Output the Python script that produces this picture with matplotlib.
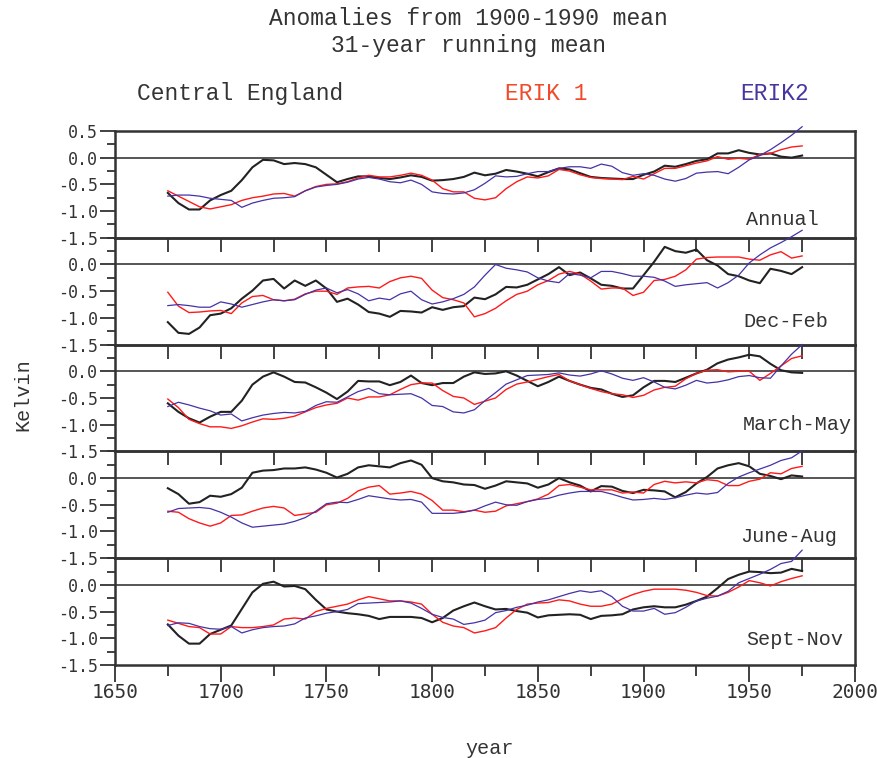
import numpy as np
import matplotlib
matplotlib.use('Agg')
import matplotlib.pyplot as plt
from matplotlib.ticker import MultipleLocator, FixedLocator

plt.rcParams['axes.unicode_minus'] = False

years = np.arange(1675, 1976, 5)

panels = ['Annual', 'Dec-Feb', 'March-May', 'June-Aug', 'Sept-Nov']

# Central England (black)
cet_annual = [-0.66, -0.85, -0.97, -0.97, -0.80, -0.70, -0.62, -0.42, -0.18, -0.04, -0.05, -0.12, -0.10,
              -0.12, -0.18, -0.32, -0.46, -0.40, -0.35, -0.35, -0.38, -0.40, -0.37, -0.33, -0.36, -0.43,
              -0.42, -0.40, -0.36, -0.28, -0.33, -0.30, -0.23, -0.26, -0.30, -0.35, -0.27, -0.20, -0.22,
              -0.29, -0.36, -0.38, -0.39, -0.40, -0.40, -0.32, -0.26, -0.15, -0.17, -0.12, -0.06, -0.03,
              0.08, 0.08, 0.14, 0.09, 0.06, 0.08, 0.02, 0.00, 0.04]
cet_djf = [-1.08, -1.28, -1.30, -1.18, -0.95, -0.92, -0.82, -0.64, -0.49, -0.30, -0.27, -0.45, -0.30,
           -0.40, -0.30, -0.45, -0.70, -0.64, -0.75, -0.89, -0.92, -0.98, -0.87, -0.88, -0.90, -0.80,
           -0.85, -0.80, -0.78, -0.62, -0.65, -0.56, -0.42, -0.43, -0.38, -0.28, -0.18, -0.05, -0.20,
           -0.15, -0.26, -0.38, -0.40, -0.45, -0.45, -0.20, 0.05, 0.33, 0.25, 0.22, 0.28, 0.08,
           -0.02, -0.18, -0.22, -0.30, -0.35, -0.08, -0.12, -0.18, -0.05]
cet_mam = [-0.60, -0.76, -0.88, -0.96, -0.85, -0.76, -0.76, -0.55, -0.25, -0.10, -0.02, -0.10, -0.20,
           -0.21, -0.30, -0.40, -0.52, -0.38, -0.18, -0.19, -0.19, -0.26, -0.20, -0.08, -0.22, -0.26,
           -0.22, -0.22, -0.10, -0.02, -0.05, -0.04, 0.00, -0.08, -0.18, -0.28, -0.20, -0.10, -0.18,
           -0.25, -0.31, -0.34, -0.42, -0.48, -0.45, -0.30, -0.18, -0.18, -0.20, -0.12, -0.04, 0.03,
           0.15, 0.22, 0.26, 0.31, 0.28, 0.14, 0.02, -0.02, -0.03]
cet_jja = [-0.19, -0.30, -0.48, -0.45, -0.33, -0.35, -0.30, -0.18, 0.10, 0.14, 0.15, 0.18, 0.18,
           0.20, 0.16, 0.10, 0.01, 0.08, 0.20, 0.24, 0.22, 0.20, 0.28, 0.33, 0.25, 0.00,
           -0.06, -0.08, -0.12, -0.13, -0.20, -0.14, -0.06, -0.08, -0.10, -0.18, -0.12, 0.00, -0.08,
           -0.14, -0.25, -0.15, -0.16, -0.24, -0.28, -0.22, -0.23, -0.25, -0.36, -0.26, -0.10, 0.02,
           0.18, 0.24, 0.28, 0.22, 0.08, 0.04, -0.02, 0.05, 0.03]
cet_son = [-0.74, -0.95, -1.10, -1.10, -0.92, -0.84, -0.76, -0.45, -0.14, 0.02, 0.06, -0.03, -0.02,
           -0.08, -0.28, -0.46, -0.50, -0.53, -0.55, -0.58, -0.64, -0.60, -0.60, -0.60, -0.62, -0.70,
           -0.62, -0.48, -0.40, -0.33, -0.40, -0.46, -0.45, -0.49, -0.52, -0.61, -0.57, -0.56, -0.55,
           -0.56, -0.64, -0.58, -0.57, -0.55, -0.46, -0.42, -0.40, -0.42, -0.42, -0.37, -0.30, -0.22,
           -0.06, 0.11, 0.19, 0.25, 0.24, 0.22, 0.23, 0.30, 0.26]

# ERIK 1 (red)
erik1_annual = [-0.62, -0.72, -0.82, -0.92, -0.96, -0.92, -0.88, -0.80, -0.75, -0.72, -0.68, -0.67, -0.72,
                -0.62, -0.54, -0.50, -0.49, -0.45, -0.38, -0.33, -0.36, -0.36, -0.33, -0.29, -0.33, -0.42,
                -0.58, -0.64, -0.64, -0.76, -0.79, -0.75, -0.58, -0.45, -0.36, -0.38, -0.34, -0.22, -0.25,
                -0.32, -0.37, -0.39, -0.40, -0.41, -0.35, -0.40, -0.30, -0.20, -0.20, -0.15, -0.10, -0.06,
                0.02, -0.03, -0.01, -0.03, 0.06, 0.08, 0.15, 0.20, 0.22]
erik1_djf = [-0.52, -0.78, -0.90, -0.89, -0.87, -0.86, -0.92, -0.72, -0.60, -0.58, -0.66, -0.68, -0.65,
             -0.55, -0.50, -0.50, -0.56, -0.44, -0.42, -0.41, -0.44, -0.32, -0.25, -0.22, -0.26, -0.48,
             -0.62, -0.66, -0.72, -0.98, -0.92, -0.82, -0.68, -0.56, -0.50, -0.38, -0.30, -0.18, -0.13,
             -0.18, -0.31, -0.46, -0.44, -0.44, -0.58, -0.52, -0.30, -0.28, -0.22, -0.10, 0.10, 0.13,
             0.14, 0.14, 0.14, 0.10, 0.08, 0.18, 0.24, 0.12, 0.16]
erik1_mam = [-0.52, -0.68, -0.90, -0.98, -1.04, -1.04, -1.07, -1.02, -0.95, -0.89, -0.90, -0.88, -0.84,
             -0.76, -0.68, -0.63, -0.60, -0.50, -0.54, -0.48, -0.48, -0.44, -0.34, -0.25, -0.22, -0.22,
             -0.36, -0.47, -0.50, -0.62, -0.56, -0.50, -0.34, -0.24, -0.20, -0.15, -0.10, -0.06, -0.18,
             -0.25, -0.32, -0.38, -0.42, -0.44, -0.49, -0.45, -0.35, -0.30, -0.28, -0.14, -0.04, 0.02,
             0.03, -0.01, 0.00, 0.00, -0.17, -0.04, 0.10, 0.24, 0.29]
erik1_jja = [-0.62, -0.64, -0.76, -0.84, -0.90, -0.84, -0.70, -0.69, -0.62, -0.56, -0.53, -0.56, -0.70,
             -0.67, -0.64, -0.50, -0.47, -0.38, -0.24, -0.17, -0.14, -0.30, -0.28, -0.25, -0.30, -0.42,
             -0.60, -0.60, -0.63, -0.60, -0.64, -0.62, -0.52, -0.48, -0.44, -0.39, -0.30, -0.14, -0.12,
             -0.17, -0.22, -0.22, -0.22, -0.28, -0.26, -0.28, -0.12, -0.06, -0.09, -0.07, -0.09, -0.03,
             -0.05, -0.14, -0.14, -0.06, -0.02, 0.10, 0.08, 0.18, 0.22]
erik1_son = [-0.66, -0.72, -0.78, -0.80, -0.92, -0.92, -0.78, -0.80, -0.80, -0.78, -0.75, -0.64, -0.62,
             -0.64, -0.50, -0.44, -0.40, -0.36, -0.28, -0.22, -0.26, -0.30, -0.30, -0.32, -0.36, -0.55,
             -0.70, -0.77, -0.80, -0.90, -0.86, -0.80, -0.62, -0.46, -0.36, -0.34, -0.33, -0.28, -0.30,
             -0.36, -0.40, -0.40, -0.36, -0.26, -0.18, -0.12, -0.08, -0.08, -0.08, -0.10, -0.14, -0.20,
             -0.21, -0.14, -0.04, 0.08, 0.04, -0.02, 0.06, 0.12, 0.17]

# ERIK2 (blue)
erik2_annual = [-0.72, -0.70, -0.70, -0.72, -0.76, -0.78, -0.80, -0.93, -0.85, -0.80, -0.76, -0.75, -0.73,
                -0.62, -0.55, -0.52, -0.50, -0.46, -0.40, -0.37, -0.40, -0.45, -0.47, -0.42, -0.50, -0.64,
                -0.67, -0.68, -0.66, -0.60, -0.48, -0.34, -0.36, -0.35, -0.30, -0.26, -0.26, -0.20, -0.17,
                -0.17, -0.20, -0.12, -0.16, -0.28, -0.33, -0.30, -0.33, -0.40, -0.44, -0.39, -0.29, -0.27,
                -0.26, -0.30, -0.18, -0.04, 0.04, 0.15, 0.28, 0.42, 0.58]
erik2_djf = [-0.77, -0.75, -0.77, -0.80, -0.80, -0.70, -0.74, -0.80, -0.75, -0.70, -0.66, -0.68, -0.66,
             -0.56, -0.48, -0.44, -0.53, -0.47, -0.55, -0.68, -0.63, -0.66, -0.55, -0.50, -0.66, -0.74,
             -0.70, -0.64, -0.56, -0.42, -0.20, 0.00, -0.07, -0.10, -0.14, -0.25, -0.31, -0.34, -0.17,
             -0.20, -0.25, -0.13, -0.13, -0.17, -0.22, -0.22, -0.24, -0.31, -0.41, -0.38, -0.36, -0.34,
             -0.44, -0.34, -0.20, 0.03, 0.18, 0.31, 0.41, 0.52, 0.64]
erik2_mam = [-0.66, -0.58, -0.63, -0.69, -0.74, -0.82, -0.80, -0.93, -0.87, -0.82, -0.79, -0.77, -0.78,
             -0.75, -0.64, -0.57, -0.58, -0.48, -0.38, -0.32, -0.42, -0.44, -0.43, -0.42, -0.50, -0.64,
             -0.66, -0.76, -0.78, -0.72, -0.55, -0.40, -0.24, -0.16, -0.08, -0.07, -0.06, -0.03, -0.07,
             -0.09, -0.05, 0.01, -0.05, -0.13, -0.17, -0.12, -0.20, -0.30, -0.33, -0.26, -0.17, -0.22,
             -0.20, -0.16, -0.10, -0.08, -0.12, -0.13, 0.10, 0.32, 0.50]
erik2_jja = [-0.64, -0.57, -0.56, -0.55, -0.57, -0.64, -0.73, -0.84, -0.92, -0.90, -0.88, -0.86, -0.81,
             -0.74, -0.62, -0.48, -0.45, -0.46, -0.40, -0.33, -0.36, -0.39, -0.41, -0.40, -0.45, -0.66,
             -0.66, -0.66, -0.64, -0.60, -0.52, -0.45, -0.50, -0.51, -0.44, -0.40, -0.38, -0.32, -0.28,
             -0.25, -0.25, -0.25, -0.30, -0.36, -0.41, -0.40, -0.38, -0.40, -0.37, -0.32, -0.28, -0.30,
             -0.27, -0.10, 0.02, 0.10, 0.17, 0.24, 0.33, 0.38, 0.51]
erik2_son = [-0.76, -0.71, -0.72, -0.78, -0.82, -0.83, -0.78, -0.90, -0.84, -0.80, -0.78, -0.77, -0.73,
             -0.62, -0.58, -0.53, -0.50, -0.46, -0.35, -0.34, -0.33, -0.32, -0.30, -0.34, -0.44, -0.55,
             -0.61, -0.64, -0.74, -0.71, -0.66, -0.52, -0.48, -0.42, -0.38, -0.32, -0.28, -0.22, -0.16,
             -0.11, -0.14, -0.11, -0.22, -0.40, -0.49, -0.49, -0.44, -0.55, -0.52, -0.42, -0.30, -0.25,
             -0.21, -0.12, 0.04, 0.12, 0.20, 0.29, 0.40, 0.44, 0.65]

cet = [cet_annual, cet_djf, cet_mam, cet_jja, cet_son]
erik1 = [erik1_annual, erik1_djf, erik1_mam, erik1_jja, erik1_son]
erik2 = [erik2_annual, erik2_djf, erik2_mam, erik2_jja, erik2_son]

# where each season label sits (axes fraction)
label_pos = [(0.902, 0.175), (0.907, 0.22), (0.922, 0.25), (0.911, 0.20), (0.919, 0.235)]

txt_font = 'Liberation Mono'
num_font = 'DejaVu Sans Mono'
edge = '#333333'

fig = plt.figure(figsize=(8.77, 7.58), dpi=100)
gs = fig.add_gridspec(5, 1, left=0.1311, right=0.9749, top=0.8272, bottom=0.1227, hspace=0)

for i, name in enumerate(panels):
    ax = fig.add_subplot(gs[i])
    ax.set_xlim(1650, 2000)
    ax.set_ylim(-1.5, 0.5)
    ax.set_facecolor('none')
    ax.axhline(0, color='#555555', lw=1.4, zorder=1)
    ax.plot(years, cet[i], color='#222222', lw=1.5, zorder=3, clip_on=False)
    ax.plot(years, erik1[i], color='#ff1a1a', lw=1.0, zorder=4, clip_on=False)
    ax.plot(years, erik2[i], color='#4433a6', lw=0.9, zorder=5, clip_on=False)
    for s in ax.spines.values():
        s.set_color(edge)
        s.set_linewidth(1.8)

    ylabs = ['0.5', '0.0', '-0.5', '-1.0', '-1.5'] if i == 0 else ['0.0', '-0.5', '-1.0', '-1.5']
    ax.yaxis.set_major_locator(FixedLocator([float(v) for v in ylabs]))
    ax.yaxis.set_minor_locator(MultipleLocator(0.25))
    ax.set_yticklabels(ylabs, family=num_font, fontsize=12, color=edge)
    ax.tick_params(axis='y', which='major', direction='out', length=11, width=1.3, color=edge, pad=1)
    ax.tick_params(axis='y', which='minor', direction='out', length=6, width=1.3, color=edge)

    if i < 4:
        # short ticks hanging into the panel below
        ax.xaxis.set_major_locator(FixedLocator(np.arange(1675, 1976, 25)))
        ax.xaxis.set_minor_locator(FixedLocator([]))
        ax.tick_params(axis='x', which='major', direction='out', length=10, width=1.3, color=edge,
                       labelbottom=False)
    else:
        ax.xaxis.set_major_locator(MultipleLocator(50))
        ax.xaxis.set_minor_locator(MultipleLocator(25))
        ax.tick_params(axis='x', which='major', direction='out', length=12, width=1.3, color=edge, pad=1)
        ax.tick_params(axis='x', which='minor', direction='out', length=8, width=1.3, color=edge)
        for lab in ax.get_xticklabels():
            lab.set_family(num_font)
            lab.set_fontsize(14)
            lab.set_color(edge)
    ax.text(label_pos[i][0], label_pos[i][1], name, transform=ax.transAxes, ha='center', va='center',
            family=txt_font, fontsize=14.5, color=edge)

fig.text(0.534, 0.975, 'Anomalies from 1900-1990 mean', ha='center', va='center',
         family=txt_font, fontsize=16.5, color=edge)
fig.text(0.534, 0.940, '31-year running mean', ha='center', va='center',
         family=txt_font, fontsize=16.5, color=edge)
fig.text(0.274, 0.877, 'Central England', ha='center', va='center', family=txt_font, fontsize=16.5, color=edge)
fig.text(0.623, 0.877, 'ERIK 1', ha='center', va='center', family=txt_font, fontsize=16.5, color='#f04a2a')
fig.text(0.883, 0.877, 'ERIK2', ha='center', va='center', family=txt_font, fontsize=16.5, color='#4a35a0')
fig.text(0.558, 0.013, 'year', ha='center', va='center', family=txt_font, fontsize=14.5, color=edge)
fig.text(0.026, 0.479, 'Kelvin', ha='center', va='center', rotation=90, family=txt_font, fontsize=14.5, color=edge)

fig.savefig('out.png', dpi=100)
